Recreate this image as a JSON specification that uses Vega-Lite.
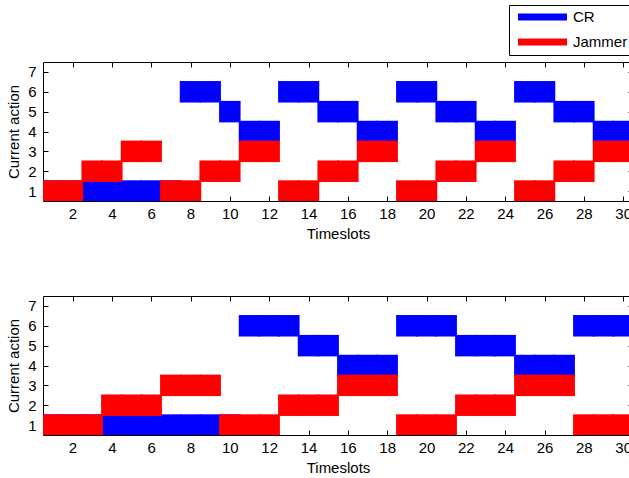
{
  "$schema": "https://vega.github.io/schema/vega-lite/v6.json",
  "padding": {"left": 6, "top": 4, "right": 0, "bottom": 0},
  "background": "#ffffff",
  "datasets": {
    "top": [
      {"t":1,"player":"CR","action":1},{"t":2,"player":"CR","action":1},{"t":3,"player":"CR","action":1},{"t":4,"player":"CR","action":1},{"t":5,"player":"CR","action":1},{"t":6,"player":"CR","action":1},{"t":7,"player":"CR","action":1},{"t":8,"player":"CR","action":6},{"t":9,"player":"CR","action":6},{"t":10,"player":"CR","action":5},
      {"t":11,"player":"CR","action":4},{"t":12,"player":"CR","action":4},{"t":13,"player":"CR","action":6},{"t":14,"player":"CR","action":6},{"t":15,"player":"CR","action":5},{"t":16,"player":"CR","action":5},{"t":17,"player":"CR","action":4},{"t":18,"player":"CR","action":4},{"t":19,"player":"CR","action":6},{"t":20,"player":"CR","action":6},
      {"t":21,"player":"CR","action":5},{"t":22,"player":"CR","action":5},{"t":23,"player":"CR","action":4},{"t":24,"player":"CR","action":4},{"t":25,"player":"CR","action":6},{"t":26,"player":"CR","action":6},{"t":27,"player":"CR","action":5},{"t":28,"player":"CR","action":5},{"t":29,"player":"CR","action":4},{"t":30,"player":"CR","action":4},
      {"t":1,"player":"Jammer","action":1},{"t":2,"player":"Jammer","action":1},{"t":3,"player":"Jammer","action":2},{"t":4,"player":"Jammer","action":2},{"t":5,"player":"Jammer","action":3},{"t":6,"player":"Jammer","action":3},{"t":7,"player":"Jammer","action":1},{"t":8,"player":"Jammer","action":1},{"t":9,"player":"Jammer","action":2},{"t":10,"player":"Jammer","action":2},
      {"t":11,"player":"Jammer","action":3},{"t":12,"player":"Jammer","action":3},{"t":13,"player":"Jammer","action":1},{"t":14,"player":"Jammer","action":1},{"t":15,"player":"Jammer","action":2},{"t":16,"player":"Jammer","action":2},{"t":17,"player":"Jammer","action":3},{"t":18,"player":"Jammer","action":3},{"t":19,"player":"Jammer","action":1},{"t":20,"player":"Jammer","action":1},
      {"t":21,"player":"Jammer","action":2},{"t":22,"player":"Jammer","action":2},{"t":23,"player":"Jammer","action":3},{"t":24,"player":"Jammer","action":3},{"t":25,"player":"Jammer","action":1},{"t":26,"player":"Jammer","action":1},{"t":27,"player":"Jammer","action":2},{"t":28,"player":"Jammer","action":2},{"t":29,"player":"Jammer","action":3},{"t":30,"player":"Jammer","action":3}
    ],
    "bottom": [
      {"t":1,"player":"CR","action":1},{"t":2,"player":"CR","action":1},{"t":3,"player":"CR","action":1},{"t":4,"player":"CR","action":1},{"t":5,"player":"CR","action":1},{"t":6,"player":"CR","action":1},{"t":7,"player":"CR","action":1},{"t":8,"player":"CR","action":1},{"t":9,"player":"CR","action":1},{"t":10,"player":"CR","action":1},
      {"t":11,"player":"CR","action":6},{"t":12,"player":"CR","action":6},{"t":13,"player":"CR","action":6},{"t":14,"player":"CR","action":5},{"t":15,"player":"CR","action":5},{"t":16,"player":"CR","action":4},{"t":17,"player":"CR","action":4},{"t":18,"player":"CR","action":4},{"t":19,"player":"CR","action":6},{"t":20,"player":"CR","action":6},
      {"t":21,"player":"CR","action":6},{"t":22,"player":"CR","action":5},{"t":23,"player":"CR","action":5},{"t":24,"player":"CR","action":5},{"t":25,"player":"CR","action":4},{"t":26,"player":"CR","action":4},{"t":27,"player":"CR","action":4},{"t":28,"player":"CR","action":6},{"t":29,"player":"CR","action":6},{"t":30,"player":"CR","action":6},
      {"t":1,"player":"Jammer","action":1},{"t":2,"player":"Jammer","action":1},{"t":3,"player":"Jammer","action":1},{"t":4,"player":"Jammer","action":2},{"t":5,"player":"Jammer","action":2},{"t":6,"player":"Jammer","action":2},{"t":7,"player":"Jammer","action":3},{"t":8,"player":"Jammer","action":3},{"t":9,"player":"Jammer","action":3},{"t":10,"player":"Jammer","action":1},
      {"t":11,"player":"Jammer","action":1},{"t":12,"player":"Jammer","action":1},{"t":13,"player":"Jammer","action":2},{"t":14,"player":"Jammer","action":2},{"t":15,"player":"Jammer","action":2},{"t":16,"player":"Jammer","action":3},{"t":17,"player":"Jammer","action":3},{"t":18,"player":"Jammer","action":3},{"t":19,"player":"Jammer","action":1},{"t":20,"player":"Jammer","action":1},
      {"t":21,"player":"Jammer","action":1},{"t":22,"player":"Jammer","action":2},{"t":23,"player":"Jammer","action":2},{"t":24,"player":"Jammer","action":2},{"t":25,"player":"Jammer","action":3},{"t":26,"player":"Jammer","action":3},{"t":27,"player":"Jammer","action":3},{"t":28,"player":"Jammer","action":1},{"t":29,"player":"Jammer","action":1},{"t":30,"player":"Jammer","action":1}
    ]
  },
  "config": {
    "view": {"stroke": null},
    "font": "Liberation Sans",
    "axis": {
      "grid": false,
      "domainColor": "#000000",
      "tickColor": "#000000",
      "labelColor": "#000000",
      "titleColor": "#000000",
      "labelFont": "Liberation Sans",
      "titleFont": "Liberation Sans",
      "labelFontSize": 15,
      "titleFontSize": 15,
      "titleFontWeight": "normal",
      "tickSize": -5,
      "tickWidth": 1,
      "domainWidth": 1,
      "labelFlush": false,
      "labelOverlap": false
    }
  },
  "spacing": 54,
  "resolve": {"scale": {"color": "independent"}, "legend": {"color": "independent"}},
  "vconcat": [
    {
      "data": {"name": "top"},
      "width": 590,
      "height": 139,
      "resolve": {"axis": {"x": "independent", "y": "independent"}},
      "layer": [
        {
          "transform": [{"filter": "datum.player === 'CR'"}],
          "mark": {"type": "square", "size": 462, "opacity": 1, "filled": true, "clip": true, "strokeWidth": 0},
          "encoding": {
            "x": {"field": "t", "type": "quantitative", "scale": {"domain": [0.5, 30.5], "nice": false, "zero": false},
                  "axis": {"orient": "bottom", "title": "Timeslots", "values": [2,4,6,8,10,12,14,16,18,20,22,24,26,28,30], "labelPadding": 10, "titlePadding": 5}},
            "y": {"field": "action", "type": "quantitative", "scale": {"domain": [0.5, 7.5], "nice": false, "zero": false},
                  "axis": {"orient": "left", "title": "Current action", "values": [1,2,3,4,5,6,7], "labelPadding": 12, "titlePadding": 6}},
            "color": {"field": "player", "type": "nominal",
                      "scale": {"domain": ["CR", "Jammer"], "range": ["#0000ff", "#ff0000"]},
                      "legend": {"title": null, "orient": "none", "legendX": 466, "legendY": -57,
                                 "symbolType": "M-3.5,-0.5H3.5V0.5H-3.5Z", "symbolSize": 196, "symbolStrokeWidth": 0,
                                 "symbolOffset": 21.5, "labelOffset": 23, "labelFontSize": 15, "labelFont": "Liberation Sans",
                                 "labelColor": "#000000", "strokeColor": "#000000", "fillColor": "#ffffff",
                                 "padding": 4.5, "rowPadding": 9, "symbolOpacity": 1}}
          }
        },
        {
          "transform": [{"filter": "datum.player === 'Jammer'"}],
          "mark": {"type": "square", "size": 462, "opacity": 1, "filled": true, "clip": true, "strokeWidth": 0},
          "encoding": {
            "x": {"field": "t", "type": "quantitative", "scale": {"domain": [0.5, 30.5], "nice": false, "zero": false},
                  "axis": {"orient": "top", "title": null, "labels": false, "values": [2,4,6,8,10,12,14,16,18,20,22,24,26,28,30]}},
            "y": {"field": "action", "type": "quantitative", "scale": {"domain": [0.5, 7.5], "nice": false, "zero": false},
                  "axis": {"orient": "right", "title": null, "labels": false, "values": [1,2,3,4,5,6,7]}},
            "color": {"field": "player", "type": "nominal",
                      "scale": {"domain": ["CR", "Jammer"], "range": ["#0000ff", "#ff0000"]},
                      "legend": {"title": null, "orient": "none", "legendX": 466, "legendY": -57,
                                 "symbolType": "M-3.5,-0.5H3.5V0.5H-3.5Z", "symbolSize": 196, "symbolStrokeWidth": 0,
                                 "symbolOffset": 21.5, "labelOffset": 23, "labelFontSize": 15, "labelFont": "Liberation Sans",
                                 "labelColor": "#000000", "strokeColor": "#000000", "fillColor": "#ffffff",
                                 "padding": 4.5, "rowPadding": 9, "symbolOpacity": 1}}
          }
        }
      ]
    },
    {
      "data": {"name": "bottom"},
      "width": 590,
      "height": 139,
      "resolve": {"axis": {"x": "independent", "y": "independent"}},
      "layer": [
        {
          "transform": [{"filter": "datum.player === 'CR'"}],
          "mark": {"type": "square", "size": 462, "opacity": 1, "filled": true, "clip": true, "strokeWidth": 0},
          "encoding": {
            "x": {"field": "t", "type": "quantitative", "scale": {"domain": [0.5, 30.5], "nice": false, "zero": false},
                  "axis": {"orient": "bottom", "title": "Timeslots", "values": [2,4,6,8,10,12,14,16,18,20,22,24,26,28,30], "labelPadding": 10, "titlePadding": 5}},
            "y": {"field": "action", "type": "quantitative", "scale": {"domain": [0.5, 7.5], "nice": false, "zero": false},
                  "axis": {"orient": "left", "title": "Current action", "values": [1,2,3,4,5,6,7], "labelPadding": 12, "titlePadding": 6}},
            "color": {"field": "player", "type": "nominal",
                      "scale": {"domain": ["CR", "Jammer"], "range": ["#0000ff", "#ff0000"]},
                      "legend": null}
          }
        },
        {
          "transform": [{"filter": "datum.player === 'Jammer'"}],
          "mark": {"type": "square", "size": 462, "opacity": 1, "filled": true, "clip": true, "strokeWidth": 0},
          "encoding": {
            "x": {"field": "t", "type": "quantitative", "scale": {"domain": [0.5, 30.5], "nice": false, "zero": false},
                  "axis": {"orient": "top", "title": null, "labels": false, "values": [2,4,6,8,10,12,14,16,18,20,22,24,26,28,30]}},
            "y": {"field": "action", "type": "quantitative", "scale": {"domain": [0.5, 7.5], "nice": false, "zero": false},
                  "axis": {"orient": "right", "title": null, "labels": false, "values": [1,2,3,4,5,6,7]}},
            "color": {"field": "player", "type": "nominal",
                      "scale": {"domain": ["CR", "Jammer"], "range": ["#0000ff", "#ff0000"]},
                      "legend": null}
          }
        }
      ]
    }
  ]
}
